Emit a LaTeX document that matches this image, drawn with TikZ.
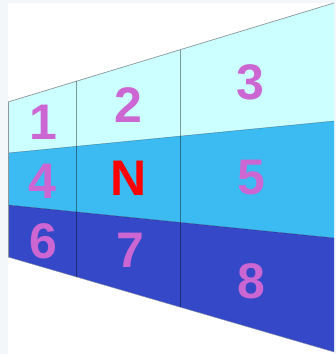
\documentclass[tikz,border=0pt]{standalone}
\usepackage{fontspec}
\setmainfont{Liberation Sans}
\definecolor{frameBg}{RGB}{244,247,249}
\definecolor{rowA}{RGB}{204,255,255}
\definecolor{rowB}{RGB}{60,187,242}
\definecolor{rowC}{RGB}{52,72,200}
\definecolor{numCol}{RGB}{204,102,210}
\definecolor{lineCol}{RGB}{140,150,155}
\tikzset{
  num/.style={font=\fontsize{50}{50}\selectfont\bfseries, text=numCol, inner sep=0pt, anchor=center},
  ncell/.style={font=\fontsize{50}{50}\selectfont\bfseries, text=red, inner sep=0pt, anchor=center},
  edge/.style={draw=lineCol, line width=0.7pt},
  divider/.style={draw=black, draw opacity=0.4, line width=0.6pt},
}
\begin{document}
\begin{tikzpicture}[x=1pt,y=-1pt]
\fill[frameBg] (0,0) rectangle (336,354);
\fill[white] (8,3) rectangle (334,354);
\useasboundingbox (0,0) rectangle (336,354);
% corner coordinates
\coordinate (t0) at (8,102);  \coordinate (t1) at (76,81.3); \coordinate (t2) at (180,49.8); \coordinate (t3) at (334,3);
\coordinate (a0) at (8,153);  \coordinate (a1) at (76,146.3); \coordinate (a2) at (180,136); \coordinate (a3) at (334,121);
\coordinate (b0) at (8,205);  \coordinate (b1) at (76,211.9); \coordinate (b2) at (180,222.4); \coordinate (b3) at (334,238);
\coordinate (c0) at (8,257);  \coordinate (c1) at (76,276.8); \coordinate (c2) at (180,307); \coordinate (c3) at (334,352);
% rows
\fill[rowA] (t0) -- (t3) -- (a3) -- (a0) -- cycle;
\fill[rowB] (a0) -- (a3) -- (b3) -- (b0) -- cycle;
\fill[rowC] (b0) -- (b3) -- (c3) -- (c0) -- cycle;
% lines
\draw[edge] (t0) -- (t3);
\draw[edge, line width=0.4pt] (c0) -- (c3);
\draw[divider, line width=0.4pt] (a0) -- (a3);
\draw[divider, line width=0.4pt] (b0) -- (b3);
\draw[edge, line width=0.5pt] (t0) -- (c0);
\draw[divider] (t1) -- (c1);
\draw[divider] (t2) -- (c2);
% labels
\node[num] (n1) at (43,122) {1};
\node[num] (n2) at (128,105) {2};
\node[num] (n3) at (250,82) {3};
\node[num] (n4) at (42,181) {4};
\node[ncell] (nN) at (129,178) {N};
\node[num] (n5) at (251,178) {5};
\node[num] (n6) at (43,241) {6};
\node[num] (n7) at (130,250) {7};
\node[num] (n8) at (251,281) {8};
\end{tikzpicture}
\end{document}
